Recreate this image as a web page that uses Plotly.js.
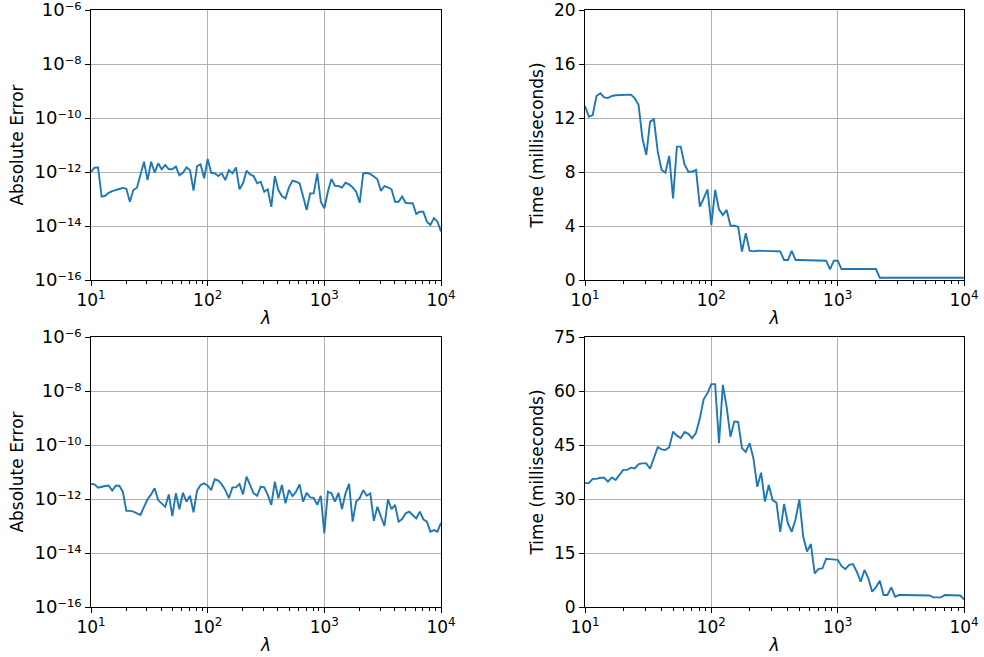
<!DOCTYPE html>
<html>
<head>
<meta charset="utf-8">
<script src="https://cdn.plot.ly/plotly-3.0.1.min.js"></script>
<style>html,body{margin:0;padding:0;background:#fff;}#chart{width:984px;height:657px;}</style>
</head>
<body>
<div id="chart"></div>
<script>
// lambda grid (shared by all four panels)
const lam = [10, 10.72, 11.50, 12.33, 13.22, 14.17, 15.20, 16.30, 17.48, 18.74, 20.09, 21.54, 23.10, 24.77, 26.56, 28.48, 30.54, 32.75, 35.11, 37.65, 40.37, 43.29, 46.42, 49.77, 53.37, 57.22, 61.36, 65.79, 70.55, 75.65, 81.11, 86.97, 93.26,
  100, 107.2, 115.0, 123.3, 132.2, 141.7, 152.0, 163.0, 174.8, 187.4, 200.9, 215.4, 231.0, 247.7, 265.6, 284.8, 305.4, 327.5, 351.1, 376.5, 403.7, 432.9, 464.2, 497.7, 533.7, 572.2, 613.6, 657.9, 705.5, 756.5, 811.1, 869.7, 932.6,
  1000, 1072, 1150, 1233, 1322, 1417, 1520, 1630, 1748, 1874, 2009, 2154, 2310, 2477, 2656, 2848, 3054, 3275, 3511, 3765, 4037, 4329, 4642, 4977, 5337, 5722, 6136, 6579, 7055, 7565, 8111, 8697, 9326,
  10000];

// log10 of absolute error, top-left panel
const errTopExp = [-12.0, -11.84, -11.83, -12.91, -12.88, -12.77, -12.71, -12.68, -12.63, -12.59,
  -12.62, -13.1, -12.67, -12.58, -12.05, -11.62, -12.30, -11.62, -12.02, -11.68,
  -11.9, -11.74, -11.9, -11.9, -11.8, -12.12, -12.03, -11.83, -11.93, -12.69,
  -11.78, -11.72, -12.23, -11.52, -12.03, -12.05, -12.15, -12.05, -12.3, -11.93,
  -12.05, -11.83, -12.64, -12.42, -11.95, -12.09, -12.15, -12.42, -12.36, -12.73,
  -12.64, -13.29, -12.15, -12.67, -12.89, -12.98, -12.57, -12.32, -12.36, -12.42,
  -12.91, -13.41, -12.79, -12.79, -12.05, -13.1, -13.34, -12.73, -12.26, -12.51,
  -12.52, -12.58, -12.4, -12.46, -12.57, -12.73, -13.14, -12.05, -12.04, -12.07,
  -12.17, -12.27, -12.7, -12.52, -12.57, -12.64, -13.1, -13.1, -12.91, -13.14,
  -13.16, -13.16, -13.56, -13.47, -13.47, -13.84, -13.96, -13.71, -13.84, -14.2];

// time in milliseconds, top-right panel
const timeTop = [12.89, 12.1, 12.22, 13.63, 13.83, 13.53, 13.48, 13.63, 13.68, 13.7,
  13.7, 13.72, 13.73, 13.46, 12.96, 10.5, 9.26, 11.73, 11.9, 9.51,
  8.15, 7.95, 9.19, 6.05, 9.88, 9.88, 8.57, 8.02, 8.02, 8.15,
  5.43, 6.05, 6.72, 4.07, 6.67, 5.23, 4.81, 5.19, 4.02, 4.02,
  3.95, 2.1, 3.46, 2.17, 2.12, 2.17, 2.15, 2.14, 2.14, 2.14,
  2.13, 2.12, 1.48, 1.48, 2.15, 1.48, 1.48, 1.48, 1.46, 1.45,
  1.45, 1.44, 1.43, 1.43, 0.79, 1.43, 1.43, 0.81, 0.81, 0.81,
  0.81, 0.81, 0.81, 0.81, 0.81, 0.81, 0.81, 0.17, 0.17, 0.17,
  0.17, 0.17, 0.17, 0.17, 0.17, 0.17, 0.17, 0.17, 0.17, 0.17,
  0.17, 0.17, 0.17, 0.17, 0.17, 0.17, 0.17, 0.17, 0.17, 0.17];

// log10 of absolute error, bottom-left panel
const errBotExp = [-11.44, -11.46, -11.58, -11.54, -11.52, -11.5, -11.69, -11.51, -11.51, -11.73,
  -12.44, -12.44, -12.47, -12.53, -12.59, -12.29, -12.01, -11.83, -11.6, -12.04,
  -12.16, -12.29, -11.83, -12.63, -11.79, -12.38, -11.77, -12.1, -11.88, -12.49,
  -11.69, -11.48, -11.42, -11.51, -11.67, -11.27, -11.32, -11.46, -11.67, -11.97,
  -11.57, -11.57, -11.44, -11.83, -11.17, -11.48, -11.79, -11.88, -11.54, -11.57,
  -11.85, -12.22, -11.36, -11.97, -11.48, -12.16, -11.67, -11.89, -11.73, -11.46,
  -12.1, -11.77, -11.94, -11.96, -12.22, -11.88, -13.27, -11.73, -11.79, -12.1,
  -11.77, -12.37, -11.79, -11.44, -12.84, -12.1, -11.97, -11.67, -11.88, -11.79,
  -12.81, -12.29, -12.63, -13.0, -12.01, -12.38, -12.22, -12.84, -12.74, -12.53,
  -12.47, -12.59, -12.72, -12.47, -12.75, -12.84, -13.21, -13.15, -13.21, -12.88];

// time in milliseconds, bottom-right panel
const timeBot = [34.4, 34.4, 35.6, 35.6, 35.9, 35.9, 34.8, 36.0, 35.3, 36.7,
  38.1, 38.1, 38.7, 38.5, 39.7, 39.9, 39.9, 38.4, 41.6, 44.4,
  43.8, 43.6, 44.4, 48.7, 47.6, 46.9, 48.6, 48.1, 46.9, 48.4,
  52.4, 57.7, 59.4, 61.9, 61.9, 45.5, 61.7, 55.6, 47.3, 51.5,
  51.4, 44.1, 43.1, 45.5, 41.3, 33.4, 37.3, 29.3, 33.9, 29.7,
  29.0, 20.9, 28.6, 23.2, 20.9, 24.4, 29.9, 19.5, 15.4, 17.5,
  9.35, 10.6, 10.7, 13.4, 13.3, 13.1, 13.1, 11.4, 10.5, 11.7,
  11.9, 9.8, 7.03, 10.3, 7.96, 4.26, 5.46, 7.3, 3.33, 3.33,
  5.46, 2.87, 3.33, 3.33, 3.3, 3.3, 3.3, 3.3, 3.3, 3.2,
  3.2, 2.68, 2.68, 2.68, 3.33, 3.33, 3.33, 3.33, 3.2, 2.1];

// tick labels
const xTickVals = [10, 100, 1000, 10000];
const xTickText = ['10<sup>1</sup>', '10<sup>2</sup>', '10<sup>3</sup>', '10<sup>4</sup>'];
const xMinorVals = [20, 30, 40, 50, 60, 70, 80, 90, 200, 300, 400, 500, 600, 700, 800, 900, 2000, 3000, 4000, 5000, 6000, 7000, 8000, 9000];
const errTickVals = [1e-16, 1e-14, 1e-12, 1e-10, 1e-8, 1e-6];
const errTickText = ['10⁻¹⁶', '10⁻¹⁴', '10⁻¹²', '10⁻¹⁰', '10⁻⁸', '10⁻⁶'];
const timeTopTicks = [0, 4, 8, 12, 16, 20];
const timeBotTicks = [0, 15, 30, 45, 60, 75];

const lineColor = '#1f77b4';
const FONT = 'DejaVu Sans, sans-serif';

function tr(x, y, xa, ya) {
  return {x: x, y: y, xaxis: xa, yaxis: ya, type: 'scatter', mode: 'lines',
          line: {color: lineColor, width: 1.9}, hoverinfo: 'skip', showlegend: false};
}
const pow10 = a => a.map(v => Math.pow(10, v));

const data = [
  tr(lam, pow10(errTopExp), 'x', 'y'),
  tr(lam, timeTop, 'x2', 'y2'),
  tr(lam, pow10(errBotExp), 'x3', 'y3'),
  tr(lam, timeBot, 'x4', 'y4')
];

const W = 984, H = 657;
const leftDom = [91 / W, 441 / W];
const rightDom = [585 / W, 964 / W];
const topDom = [(H - 280) / H, (H - 10) / H];
const botDom = [(H - 607) / H, (H - 337) / H];

function common() {
  return {showline: true, mirror: true, linecolor: 'black', linewidth: 1,
          ticks: 'outside', ticklen: 5, tickwidth: 1, tickcolor: 'black',
          showgrid: true, gridcolor: '#b0b0b0', gridwidth: 1, zeroline: false,
          ticklabeloverflow: 'allow',
          tickfont: {family: FONT, size: 17, color: 'black'}};
}
function xAx(dom, anchor) {
  return Object.assign(common(), {
    domain: dom, anchor: anchor, type: 'log', range: [1, 4],
    tickmode: 'array', tickvals: xTickVals, ticktext: xTickText,
    minor: {tickmode: 'array', tickvals: xMinorVals, ticks: 'outside', ticklen: 3, tickwidth: 1, tickcolor: 'black', showgrid: false},
    title: {text: '<i>λ</i>', font: {family: FONT, size: 17, color: 'black'}, standoff: 2}
  });
}
function yErr(dom, anchor) {
  return Object.assign(common(), {
    domain: dom, anchor: anchor, type: 'log', range: [-16, -6],
    tickmode: 'array', tickvals: errTickVals, ticktext: errTickText,
    tickfont: {family: FONT, size: 18, color: 'black'},
    title: {text: 'Absolute Error', font: {family: FONT, size: 17, color: 'black'}, standoff: 6}
  });
}
function yTime(dom, anchor, ticks) {
  return Object.assign(common(), {
    domain: dom, anchor: anchor, type: 'linear', range: [ticks[0], ticks[ticks.length - 1]],
    tickmode: 'array', tickvals: ticks,
    title: {text: 'Time (milliseconds)', font: {family: FONT, size: 17, color: 'black'}, standoff: 6}
  });
}

const layout = {
  width: W, height: H,
  margin: {l: 0, r: 0, t: 0, b: 0},
  paper_bgcolor: 'white', plot_bgcolor: 'white',
  font: {family: FONT, size: 17, color: 'black'},
  showlegend: false,
  xaxis: xAx(leftDom, 'y'),
  yaxis: yErr(topDom, 'x'),
  xaxis2: xAx(rightDom, 'y2'),
  yaxis2: yTime(topDom, 'x2', timeTopTicks),
  xaxis3: xAx(leftDom, 'y3'),
  yaxis3: yErr(botDom, 'x3'),
  xaxis4: xAx(rightDom, 'y4'),
  yaxis4: yTime(botDom, 'x4', timeBotTicks)
};

Plotly.newPlot('chart', data, layout, {staticPlot: true, displayModeBar: false});
</script>
</body>
</html>
